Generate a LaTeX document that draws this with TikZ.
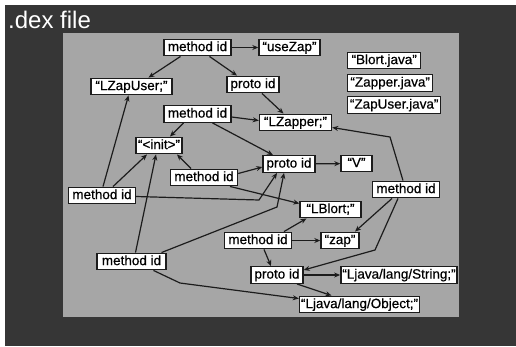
\documentclass[tikz,border=0pt]{standalone}
\usepackage{fontspec}
\setmainfont{Liberation Sans}
\newfontfamily\boxfont[FakeBold=0.6]{Liberation Sans}
\usetikzlibrary{arrows.meta}
\definecolor{slate}{HTML}{363636}
\definecolor{panelgray}{HTML}{A6A6A6}
\definecolor{ink}{HTML}{1C1C1C}
\begin{document}
\begin{tikzpicture}[x=1pt,y=-1pt,
  box/.style={draw=ink, fill=white, line width=1.4pt, inner xsep=1.5pt, inner ysep=0pt,
    minimum height=16.5pt, font=\boxfont\fontsize{13.5}{14}\selectfont, text height=9.8pt, text depth=2.6pt},
  link/.style={draw=ink, line width=1.2pt, -{Stealth[length=6pt,width=5pt]}}]
\useasboundingbox (0,0) rectangle (516,346);
% frame and panel
\fill[white] (0,0) rectangle (516,346);
\fill[slate] (5,5) rectangle (516,346);
\fill[panelgray] (63,33) rectangle (459,317);
\node[anchor=base west, text=white, font=\fontsize{24}{26}\selectfont, inner sep=0pt] (title) at (8,28) {.dex file};

% string, type, proto and method entries
\node[box, minimum width=67pt] (m1) at (197.5,47.5) {method id};
\node[box, minimum width=61pt] (useZap) at (289.5,47.5) {“useZap”};
\node[box, minimum width=81pt] (LZapUser) at (131.5,86.5) {“LZapUser;”};
\node[box, minimum width=52pt] (p1) at (253,84.5) {proto id};
\node[box, minimum width=73pt, anchor=west] (blortj) at (347,60.5) {“Blort.java”};
\node[box, minimum width=85pt, anchor=west] (zapperj) at (347,83) {“Zapper.java”};
\node[box, minimum width=93pt, anchor=west] (zapuserj) at (347,105) {“ZapUser.java”};
\node[box, minimum width=67pt] (m2) at (197.5,114) {method id};
\node[box, minimum width=72pt] (LZapper) at (295.5,122.5) {“LZapper;”};
\node[box, minimum width=46pt] (init) at (159,145.5) {“<init>”};
\node[box, minimum width=52pt] (p2) at (289,164) {proto id};
\node[box, minimum width=31pt] (V) at (356.5,163.5) {“V”};
\node[box, minimum width=67pt] (m3) at (204,177.5) {method id};
\node[box, minimum width=67pt] (m4) at (102,195.5) {method id};
\node[box, minimum width=67pt] (m5) at (406,189.5) {method id};
\node[box, minimum width=61pt] (LBlort) at (330.5,209.5) {“LBlort;”};
\node[box, minimum width=67pt] (m6) at (258,240.5) {method id};
\node[box, minimum width=38pt] (zap) at (340,240.5) {“zap”};
\node[box, minimum width=69pt] (m7) at (131.5,261.5) {method id};
\node[box, minimum width=52pt] (p3) at (277,275) {proto id};
\node[box, minimum width=114pt] (String) at (399,275) {“Ljava/lang/String;”};
\node[box, minimum width=119pt] (Object) at (359.5,304.5) {“Ljava/lang/Object;”};

% bend points
\coordinate (k1) at (259,200);
\coordinate (k2) at (277,207);
\coordinate (k3) at (390,137);
\coordinate (k4) at (180,283);
\coordinate (k5) at (375,250);

% references
\draw[link] (m1) -- (useZap);
\draw[link] ([xshift=-17pt]m1.south) -- ([xshift=17pt]LZapUser.north);
\draw[link] ([xshift=12pt]m1.south) -- ([xshift=-16pt]p1.north);
\draw[link] ([xshift=9pt]p1.south) -- ([xshift=-12pt]LZapper.north);
\draw[link] ([yshift=-3pt]m2.east) -- ([yshift=2pt]LZapper.west);
\draw[link] ([xshift=-14pt]m2.south) -- ([xshift=11pt]init.north);
\draw[link] ([xshift=15pt]m2.south) -- ([xshift=-16pt]p2.north);
\draw[link] (p2) -- (V);
\draw[link] ([yshift=4pt]m3.east) -- ([yshift=-3pt]p2.west);
\draw[link] ([xshift=-13pt]m3.north) -- ([xshift=18pt]init.south);
\draw[link] ([xshift=26pt]m3.south) -- ([yshift=6pt]LBlort.west);
\draw[link] ([xshift=1pt]m4.north) -- ([xshift=-3pt]LZapUser.south);
\draw[link] ([xshift=11pt]m4.north) -- ([xshift=-12pt]init.south);
\draw[link] ([yshift=-1pt]m4.east) -- (k1) -- ([xshift=-12pt]p2.south);
\draw[link] ([xshift=4pt]m7.north) -- ([xshift=-3pt]init.south);
\draw[link] ([xshift=30pt]m7.north) -- (k2) -- ([xshift=-5pt]p2.south);
\draw[link] ([xshift=22pt]m7.south) -- (k4) -- ([yshift=6pt]Object.west);
\draw[link] ([xshift=-3pt]m5.north) -- (k3) -- ([yshift=-5pt]LZapper.east);
\draw[link] ([xshift=-14pt]m5.south) -- ([xshift=15pt]zap.north);
\draw[link] ([xshift=-8pt]m5.south) -- (k5) -- ([yshift=5pt]p3.east);
\draw[link] ([xshift=26pt]m6.north) -- ([xshift=-24pt]LBlort.south);
\draw[link] (m6) -- (zap);
\draw[link] ([xshift=6pt]m6.south) -- ([xshift=-6pt]p3.north);
\draw[link] (p3) -- (String);
\draw[link] ([xshift=20pt]p3.south) -- ([xshift=-28pt]Object.north);
\end{tikzpicture}
\end{document}
